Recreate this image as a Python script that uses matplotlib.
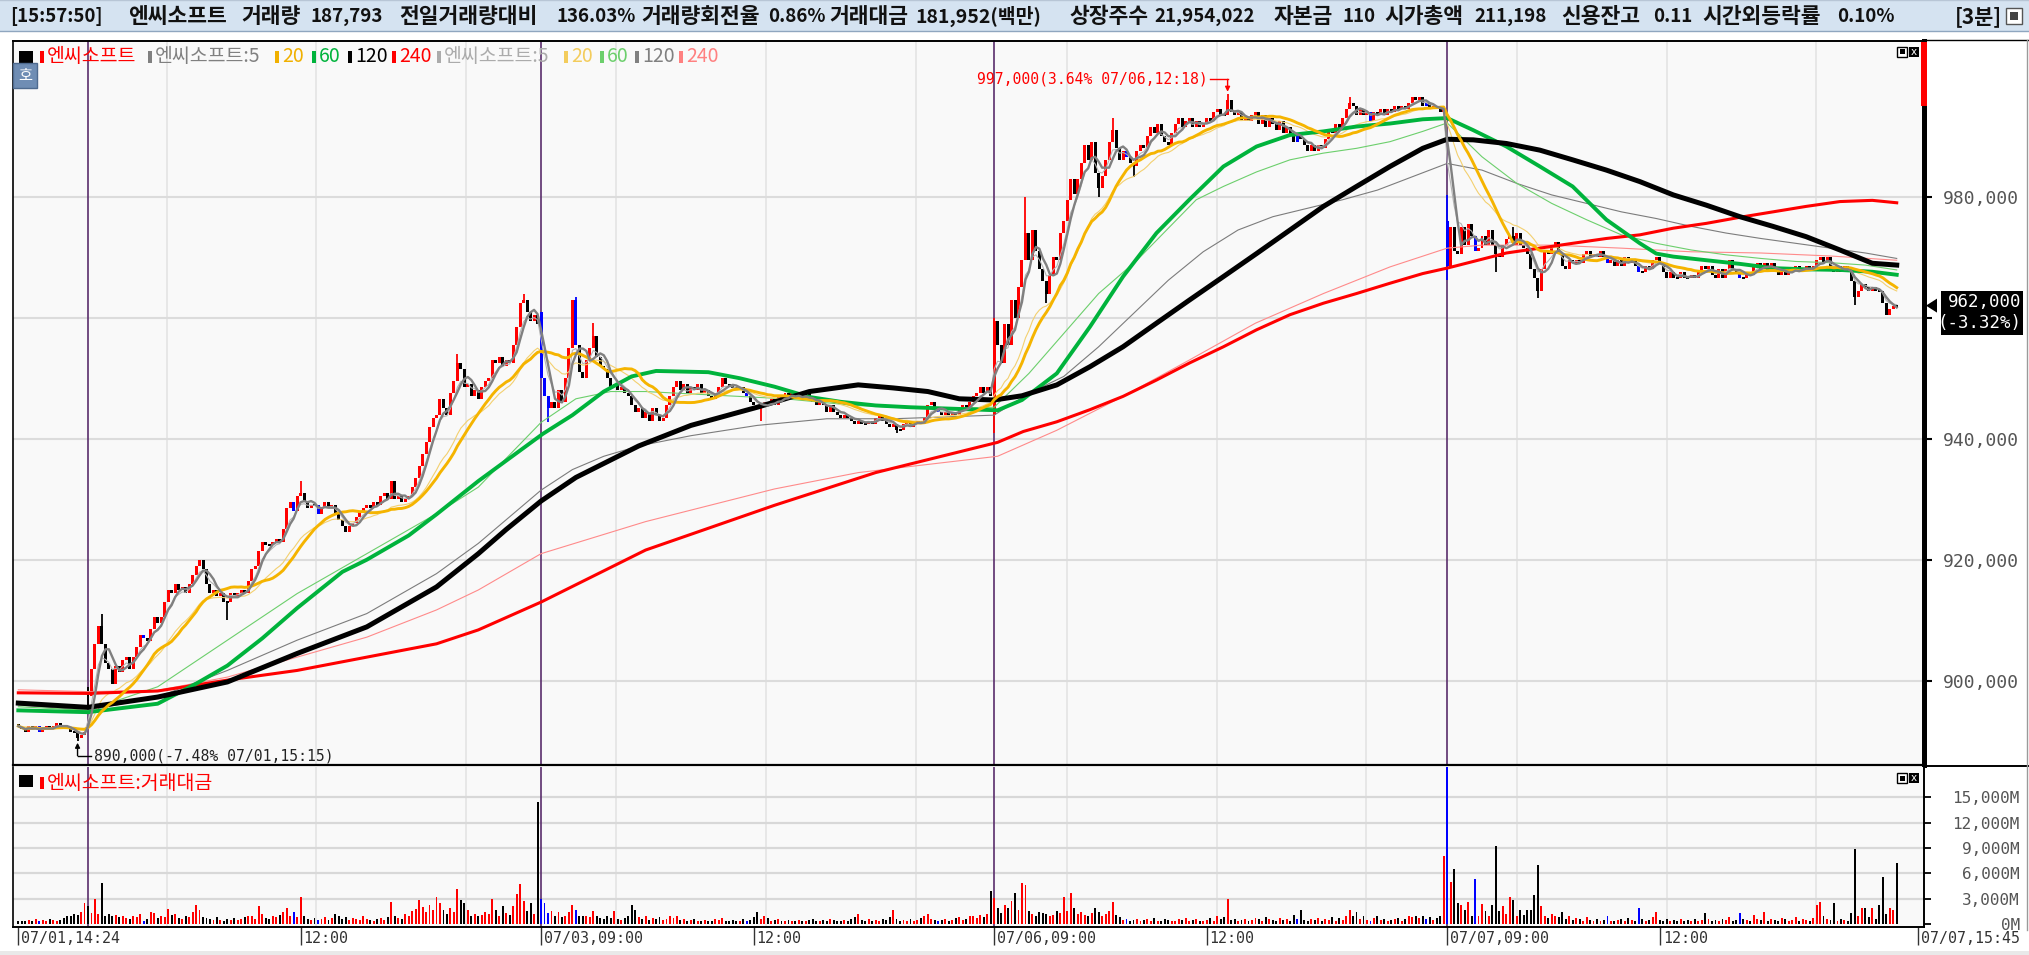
import numpy as np
import pandas as pd
import matplotlib
matplotlib.use("Agg")
import matplotlib.pyplot as plt
from matplotlib.patches import Rectangle, Polygon
from matplotlib.lines import Line2D

plt.rcParams['font.family'] = ['Noto Sans CJK KR', 'DejaVu Sans']

# ---------------- data: 3-minute bars, prices in thousand won ----------------
close_0701 = [892.5, 892, 891.5, 892.5, 892, 892.5, 891.5, 892, 892.5, 892,
              892.5, 893, 892.5, 892.5, 892, 891.5, 891.5, 890.5, 891, 891.5]
close_0702 = [897.5, 902, 906, 909, 906, 903, 902, 899.5, 902.5, 901.5,
              903.5, 904, 902, 904, 905.5, 907.5, 907, 906.5, 908.5, 910.5,
              909.5, 910.5, 913, 915, 914.5, 916, 915, 915.5, 914.5, 916,
              917.5, 919, 920, 918.5, 916, 914.5, 915, 914, 914.5, 913,
              913, 914.5, 914, 914.5, 915, 914.5, 916.5, 918.5, 919, 921.5,
              923, 922.5, 922.5, 923, 923.5, 923, 925, 928.5, 929.5, 928,
              930.5, 931, 929.5, 928.5, 929, 929, 927.5, 928.5, 929.5, 928.5,
              929, 927.5, 926.5, 925.5, 924.5, 925.5, 926, 927, 928, 928.5,
              929, 928.5, 929.5, 929, 930.5, 931, 930, 933, 930, 930.5,
              929.5, 930, 930.5, 932, 933.5, 935.5, 937.5, 939.5, 942, 943.5,
              944, 946.5, 945, 944, 947.5, 949.5, 952.5, 951.5, 948.5, 949,
              947, 948, 946.5, 948.5, 949.5, 950, 953, 952.5, 953.5, 952,
              953, 952.5, 955.5, 958.5, 962.5, 963, 961, 959.5, 960.5, 959]
close_0703 = [950, 947, 945, 946, 945, 948, 946, 950, 955, 963,
              955.5, 951, 950, 953, 955, 957, 953.5, 952, 951.5, 950,
              948.5, 949, 948, 948.5, 947.5, 947, 945.5, 944.5, 945, 943.5,
              944.5, 943, 945, 944, 943, 943.5, 945.5, 947, 948.5, 949.5,
              948, 949, 947.5, 948.5, 948, 949, 947.5, 948, 947, 946.5,
              947.5, 948.5, 950, 949, 948.5, 948.5, 948, 948.5, 947.5, 947,
              946, 945.5, 945, 945.5, 946, 945.5, 946.5, 945.5, 947, 946.5,
              947.5, 947, 947.5, 946.5, 947, 946.5, 947.5, 946.5, 946, 945.5,
              946, 945.5, 944.5, 945.5, 944.5, 944, 943.5, 944, 943.5, 943,
              942.5, 943, 942.5, 942.5, 943, 942.5, 943.5, 944, 943, 942.5,
              942, 942.5, 941.5, 941.5, 942.5, 943, 942, 942.5, 943, 942.5,
              943.5, 945.5, 946, 945, 944.5, 944, 944.5, 944, 944.5, 944,
              945, 945.5, 945, 946, 947, 947.5, 948.5, 947.5, 948.5, 947]
close_0706 = [959.5, 955.5, 952.5, 959, 955.5, 963, 960, 965, 969.5, 974,
              969.5, 974.5, 971, 968, 966, 964, 967, 970, 969.5, 974,
              976, 979.5, 983, 980.5, 983, 985.5, 988.5, 986, 989, 984,
              981.5, 983.5, 986, 989, 991, 988, 986, 987.5, 986.5, 985.5,
              985, 987.5, 988.5, 988, 990, 991.5, 990.5, 992, 990, 989,
              988.5, 990.5, 992, 993, 991.5, 992.5, 993, 991.5, 992.5, 991.5,
              992, 993, 992.5, 994, 994.5, 993.5, 993.5, 996, 994, 993.5,
              994, 992.5, 993, 992.5, 993.5, 994, 992, 993.5, 991.5, 993,
              992, 991, 992.5, 990.5, 991.5, 990, 989, 990.5, 989.5, 988.5,
              987.5, 988.5, 987.5, 988.5, 988, 989.5, 991, 990.5, 992, 991,
              993, 994.5, 995.5, 995, 993.5, 994.5, 993.5, 994, 992.5, 994,
              993.5, 994.5, 993.5, 994.5, 994, 995, 994.5, 995, 994.5, 995.5,
              996.5, 996, 996.5, 995, 995.5, 994.5, 995, 994.5, 994, 994.5]
close_0707 = [968.5, 975, 971, 970.5, 975, 972, 975.5, 973.5, 971, 971.5,
              973.5, 972, 974.5, 972, 970.5, 970, 972, 973, 973.5, 972,
              974, 972, 971.5, 970.5, 968, 966.5, 964.5, 968, 971, 970.5,
              971.5, 972.5, 970.5, 968.5, 968, 969.5, 969, 969.5, 969, 970.5,
              971, 970, 970.5, 970, 971, 970, 969, 969.5, 968.5, 969.5,
              968.5, 970, 969, 969.5, 968.5, 967.5, 967.5, 968.5, 968, 969.5,
              970, 969, 967.5, 966.5, 967.5, 966.5, 966.5, 967.5, 966.5, 966.5,
              967, 966.5, 967.5, 968.5, 968, 968.5, 967, 966.5, 968, 966.5,
              968, 969.5, 968, 967.5, 966.5, 966.5, 967.5, 967, 968.5, 969,
              968, 969, 967.5, 969, 968, 967, 968, 967, 967.5, 968,
              968.5, 967.5, 968, 968.5, 968, 968.5, 969.5, 970, 969, 970,
              968, 967.5, 968.5, 967.5, 968.5, 968, 966, 963.5, 964.5, 965.5,
              965, 964.5, 965, 964.5, 964.5, 962.5, 960.5, 961.5, 962, 962]

# opening prices where a new session gaps away from the previous close
gap_open = {0: 892.8, 20: 899.0, 150: 961.0, 280: 944.0, 410: 976.0}
high_wick = {24: 911, 81: 933, 126: 954, 145: 964, 160: 963.5, 165: 959.2,
             280: 960, 289: 980, 314: 993, 347: 997, 382: 996.5, 410: 980.3,
             429: 975}
low_wick = {17: 890, 20: 895.7, 60: 910, 152: 942.7, 213: 943, 252: 941,
            280: 941, 295: 962.5, 310: 980, 320: 983.3, 410: 966.2,
            424: 967.5, 436: 963.2, 527: 962.1}
blue_bars = [6, 36, 79, 86, 150, 151, 152, 160, 209, 264, 318, 367, 388,
             404, 410, 418, 456, 465, 494]

# trading value (거래대금), hundreds of millions of won
amt_0701 = [4, 3, 4, 5, 3, 6, 3, 5, 4, 6, 5, 4, 5, 7, 9, 10, 12, 11, 14, 25]
amt_0702 = [21, 13, 29, 12, 48, 10, 12, 9, 11, 8,
            9, 7, 6, 10, 8, 12, 4, 6, 14, 13,
            7, 9, 8, 18, 11, 12, 7, 6, 9, 8,
            14, 23, 16, 8, 7, 6, 5, 8, 5, 4,
            6, 5, 7, 5, 6, 8, 10, 9, 6, 21,
            12, 7, 6, 9, 8, 11, 14, 19, 10, 14,
            8, 32, 9, 6, 5, 7, 5, 6, 8, 5,
            7, 12, 9, 6, 8, 5, 7, 6, 5, 9,
            6, 5, 4, 6, 7, 5, 8, 26, 9, 7,
            6, 12, 10, 15, 18, 28, 20, 14, 22, 17,
            32, 25, 17, 12, 19, 14, 41, 28, 25, 16,
            10, 12, 9, 11, 14, 12, 30, 17, 9, 21,
            13, 11, 21, 36, 47, 27, 15, 25, 12, 144]
amt_0703 = [29, 25, 13, 15, 9, 14, 8, 10, 14, 23,
            17, 9, 10, 9, 8, 15, 10, 7, 6, 9,
            7, 15, 6, 5, 7, 9, 22, 17, 8, 6,
            9, 5, 7, 6, 8, 5, 6, 9, 7, 10,
            5, 6, 4, 5, 6, 4, 3, 5, 4, 3,
            6, 5, 7, 4, 3, 5, 4, 3, 6, 4,
            5, 8, 14, 6, 10, 7, 4, 5, 6, 3,
            4, 5, 3, 4, 5, 4, 3, 5, 6, 4,
            3, 5, 4, 6, 5, 4, 3, 5, 4, 6,
            8, 12, 5, 4, 6, 3, 5, 4, 6, 5,
            8, 17, 6, 4, 5, 3, 6, 4, 5, 7,
            9, 12, 6, 5, 4, 5, 6, 4, 5, 7,
            8, 5, 6, 9, 10, 7, 11, 8, 12, 39]
amt_0706 = [31, 19, 13, 23, 19, 27, 37, 16, 49, 46,
            15, 12, 10, 14, 13, 12, 9, 11, 15, 13,
            32, 15, 37, 19, 12, 14, 11, 9, 13, 19,
            14, 10, 12, 15, 26, 11, 8, 5, 6, 4,
            5, 6, 4, 5, 6, 4, 7, 3, 4, 6,
            5, 3, 4, 6, 5, 7, 4, 5, 6, 4,
            3, 5, 7, 4, 9, 6, 8, 30, 5, 6,
            4, 5, 6, 4, 5, 7, 6, 4, 8, 6,
            5, 4, 7, 5, 6, 4, 11, 6, 17, 5,
            4, 6, 5, 7, 4, 6, 5, 8, 4, 7,
            5, 9, 16, 10, 14, 6, 9, 5, 4, 7,
            9, 5, 6, 4, 5, 6, 7, 4, 6, 9,
            8, 10, 7, 9, 6, 8, 5, 7, 9, 80]
amt_0707 = [200, 50, 65, 25, 23, 16, 26, 10, 53, 10,
            24, 15, 9, 23, 92, 15, 21, 12, 32, 28,
            9, 17, 11, 17, 17, 34, 70, 21, 9, 7,
            12, 10, 8, 14, 6, 9, 5, 7, 6, 4,
            8, 5, 3, 6, 4, 5, 9, 4, 3, 5,
            6, 4, 7, 5, 4, 19, 6, 4, 5, 8,
            14, 5, 4, 6, 3, 5, 4, 6, 3, 5,
            4, 6, 3, 5, 13, 6, 4, 5, 3, 6,
            5, 8, 4, 5, 13, 6, 5, 4, 11, 6,
            5, 14, 4, 6, 5, 3, 7, 6, 4, 5,
            8, 4, 6, 5, 3, 7, 22, 26, 9, 6,
            5, 25, 4, 6, 5, 4, 13, 89, 10, 19,
            19, 8, 19, 6, 23, 56, 12, 19, 17, 72]

# long moving averages (bar index, value)
sma60 = [(0, 895.1), (20, 894.8), (40, 896.2), (51, 899.5), (60, 902.5), (70, 907), (80, 912),
         (93, 918), (100, 920), (112, 924), (120, 927.5), (132, 933), (150.5, 940.8), (159, 943.9),
         (168, 947.8), (176, 950.3), (183, 951.2), (198, 951), (207, 950), (217, 948.6), (227, 946.9),
         (236, 946.1), (246, 945.5), (256, 945.2), (266, 945), (281, 944.7), (288, 946.4), (298, 950.8),
         (307.5, 958.5), (317, 966.8), (326.6, 974), (336, 979.5), (345.8, 985), (355.3, 988.3),
         (364.9, 990.2), (374.5, 990.8), (384, 991.6), (393.6, 992.1), (403, 992.8), (410, 993),
         (417.5, 991), (427, 988.3), (436.6, 985), (446, 981.7), (455.7, 976.2), (465.3, 972.3),
         (470, 970.6), (474.9, 970.1), (484.4, 969.5), (494, 968.9), (503.5, 968.2), (513, 968),
         (522.7, 967.9), (532, 967.6), (539, 967.1)]
sma120 = [(0, 896.3), (20, 895.6), (40, 897.3), (60, 899.8), (80, 904.5), (100, 908.9), (120, 915.5),
          (132, 921), (140, 925), (150, 929.7), (160, 933.6), (178, 938.8), (193, 942.2), (212, 945.2),
          (227, 947.8), (241, 948.9), (251, 948.4), (261, 947.8), (270, 946.6), (280, 946.4),
          (288, 947.1), (298, 948.9), (307.5, 951.9), (317, 955.2), (326.6, 959.1), (336, 962.9),
          (345.8, 966.8), (355.3, 970.6), (364.9, 974.5), (374.5, 978.4), (384, 981.7), (393.6, 985),
          (403, 988), (410, 989.5), (417.5, 989.4), (427, 988.8), (436.6, 987.7), (446, 986.1),
          (455.7, 984.4), (465.3, 982.5), (474.9, 980.3), (484.4, 978.6), (494, 976.7), (503.5, 975.1),
          (513, 973.4), (522.7, 971.2), (532, 969), (539, 968.7)]
sma240 = [(0, 898), (20, 897.9), (40, 898.3), (60, 900.1), (80, 901.7), (100, 903.9), (120, 906.1),
          (132, 908.4), (150, 913), (180, 921.6), (217, 929), (246, 934.4), (281, 939.4), (288.4, 941.2),
          (298, 942.8), (307.5, 944.8), (317, 947), (326.6, 949.7), (336, 952.5), (345.8, 955.2),
          (355.3, 958), (364.9, 960.5), (374.5, 962.4), (384, 964), (393.6, 965.7), (403, 967.3),
          (410, 968.2), (417.5, 969.3), (427, 970.7), (436.6, 971.5), (446, 972.3), (455.7, 973.1),
          (465.3, 973.7), (474.9, 974.8), (484.4, 975.6), (494, 976.6), (503.5, 977.5), (513, 978.4),
          (522.7, 979.2), (532, 979.4), (539, 979)]
ema60 = [(0, 895.7), (20, 895.1), (40, 899), (60, 906.7), (80, 914.4), (100, 921), (120, 927.6),
         (132, 932), (150, 942.7), (160, 946.6), (170, 947.8), (180, 947.8), (200, 947.2), (220, 946.6),
         (240, 945.5), (260, 945), (280, 945.2), (290, 950.8), (300, 957.4), (310, 964), (321, 969.5),
         (338, 979.5), (345.8, 981.7), (355.3, 984.1), (364.9, 986.1), (374.4, 987.2), (384, 988),
         (393.6, 989.1), (403, 990.8), (410, 992.2), (420, 986.6), (430, 982.2), (440, 978.9),
         (450, 976.2), (460, 973.7), (470, 972.3), (480, 971.2), (490, 970.4), (500, 969.8),
         (510, 969.3), (520, 969.1), (530, 968.7), (539, 967.9)]
ema120 = [(0, 896), (20, 895.1), (40, 897.3), (60, 901.7), (80, 906.7), (100, 911.1), (120, 917.7),
          (132, 922.7), (150, 931.5), (159, 934.9), (168, 937.1), (178, 938.8), (193, 940.5),
          (212, 942.2), (232, 943.3), (251, 943.3), (266, 943.6), (280, 943.9), (290, 947.5),
          (300, 950.3), (310, 955.2), (320, 960.7), (330, 966.2), (340, 970.9), (350, 974.5),
          (360, 976.7), (370, 978.1), (380, 979.5), (390, 981.1), (400, 983.3), (410, 985.5),
          (420, 984.4), (430, 982.2), (440, 980.3), (450, 978.9), (460, 977.5), (470, 976.4),
          (480, 975.1), (490, 974), (500, 973.1), (510, 972.3), (520, 971.5), (530, 970.7), (539, 969.8)]
ema240 = [(0, 898.5), (20, 898.2), (40, 898.4), (60, 900.6), (80, 903.9), (100, 907.2), (120, 911.7),
          (132, 915), (150, 921), (180, 926.3), (217, 931.7), (241, 934.4), (281, 937.1), (298, 941.4),
          (317, 947), (336, 953), (355, 959.1), (374.5, 964), (393.6, 968.4), (410, 971.5), (420, 972),
          (440, 972), (460, 971.5), (480, 970.9), (500, 970.7), (520, 970.2), (539, 969.5)]

day_start = [20, 150, 280, 410]
xlab_bar = [0, 81, 150, 211, 280, 341, 410, 471, 545]
xlab_txt = ['07/01,14:24', '12:00', '07/03,09:00', '12:00', '07/06,09:00',
            '12:00', '07/07,09:00', '12:00', '07/07,15:45']

# ---------------- prepare ----------------
close = np.array(close_0701 + close_0702 + close_0703 + close_0706 + close_0707)
amt = np.array(amt_0701 + amt_0702 + amt_0703 + amt_0706 + amt_0707) * 100.0
n = len(close)
idx = np.arange(n)
opn = np.r_[close[0], close[:-1]]
for b, v in gap_open.items():
    opn[b] = v
hi = np.maximum(opn, close)
lo = np.minimum(opn, close)
for b, v in high_wick.items():
    hi[b] = v
for b, v in low_wick.items():
    lo[b] = v
col = np.where(close > opn, '#ff0000', '#000000').astype(object)
for b in blue_bars:
    col[b] = '#0000ff'

s = pd.Series(close)
ma5 = s.rolling(5, min_periods=1).mean()
ma20 = s.rolling(20, min_periods=1).mean()
ema5 = s.ewm(span=5, adjust=False).mean()
ema20 = s.ewm(span=20, adjust=False).mean()

# ---------------- figure ----------------
W, H = 2029, 955
fig = plt.figure(figsize=(W / 100, H / 100), dpi=100)
fig.patch.set_facecolor('white')


def box(x0, y0, x1, y1):
    return [x0 / W, 1 - y1 / H, (x1 - x0) / W, (y1 - y0) / H]


def frect(x0, y0, x1, y1, **kw):
    fig.add_artist(Rectangle((x0 / W, 1 - y1 / H), (x1 - x0) / W, (y1 - y0) / H,
                             transform=fig.transFigure, **kw))


def fline(xs, ys, **kw):
    fig.add_artist(Line2D([x / W for x in xs], [1 - y / H for y in ys],
                          transform=fig.transFigure, **kw))


PX0, PX1 = 13, 1924
X0, STEP = 18.3, 3.485
axp = fig.add_axes(box(PX0, 41, PX1, 765))
axv = fig.add_axes(box(PX0, 767, PX1, 927))
xlim = ((PX0 - X0) / STEP, (PX1 - X0) / STEP)
for ax in (axp, axv):
    ax.set_xlim(*xlim)
    ax.set_facecolor('#f9f9f9')
axp.set_ylim(886.07, 1005.74)
axv.set_ylim(-355, 18580)

# grid + session separators
for px in [167, 316, 466, 616, 766, 916, 1067, 1217, 1366, 1517, 1667, 1816]:
    for ax in (axp, axv):
        ax.axvline((px - X0) / STEP, color='#e2e2e2', lw=1.1, zorder=0.5)
for v in [900, 920, 940, 960, 980]:
    axp.axhline(v, color='#dcdcdc', lw=1.5, zorder=0.6)
for v in [3000, 6000, 9000, 12000, 15000]:
    axv.axhline(v, color='#d8d8d8', lw=1.6, zorder=0.6)
for b in day_start:
    for ax in (axp, axv):
        ax.axvline(b, color='#5a2d6c', lw=1.2, zorder=1.5)


def pts(p):
    return [a for a, _ in p], [b for _, b in p]


# thin (exponential) averages
axp.plot(*pts(ema240), color='#ff8a8a', lw=0.8, zorder=4)
axp.plot(*pts(ema120), color='#7c7c7c', lw=0.8, zorder=4)
axp.plot(*pts(ema60), color='#6ccf6c', lw=0.8, zorder=4)
axp.plot(idx, ema20, color='#f3d070', lw=0.8, zorder=4)
axp.plot(idx, ema5, color='#b4b4b4', lw=0.8, zorder=4)

# candles
axp.vlines(idx, lo, hi, colors=list(col), lw=1.3, zorder=3)
body = np.maximum(np.abs(close - opn), 0.35)
axp.bar(idx, body, bottom=np.minimum(opn, close) - (body - np.abs(close - opn)) / 2,
        width=0.86, color=list(col), lw=0, zorder=3)

# bold (simple) averages
axp.plot(*pts(sma240), color='#ff0000', lw=2.2, zorder=5)
axp.plot(*pts(sma60), color='#00b33c', lw=2.8, zorder=5)
axp.plot(*pts(sma120), color='#000000', lw=3.6, zorder=5)
axp.plot(idx, ma20, color='#f5b400', lw=2.1, zorder=6)
axp.plot(idx, ma5, color='#808080', lw=1.7, zorder=6)

# volume
axv.bar(idx, amt, width=0.55, color=list(col), lw=0, zorder=3)

# spines / ticks
for ax in (axp, axv):
    for sp in ax.spines.values():
        sp.set_color('black')
axp.spines['left'].set_linewidth(1.2)
axp.spines['top'].set_linewidth(1.4)
axp.spines['bottom'].set_linewidth(1.6)
axp.spines['right'].set_linewidth(3.6)
axv.spines['top'].set_visible(False)
axv.spines['left'].set_linewidth(1.2)
axv.spines['right'].set_linewidth(1.4)
axv.spines['bottom'].set_linewidth(1.4)

axp.yaxis.tick_right()
pticks = [900, 920, 940, 960, 980]
axp.set_yticks(pticks, [f'{v * 1000:,}' if v != 960 else '' for v in pticks],
               ha='right', fontfamily='DejaVu Sans Mono')
axp.tick_params(axis='y', direction='out', length=6, width=1.5, pad=62.5,
                labelsize=13, labelcolor='#555555')
axp.tick_params(axis='x', length=0, labelbottom=False)

axv.yaxis.tick_right()
vticks = [0, 3000, 6000, 9000, 12000, 15000]
axv.set_yticks(vticks, [f'{v:,}M' for v in vticks], ha='right', fontfamily='DejaVu Sans Mono')
axv.tick_params(axis='y', direction='out', length=5, width=1.3, pad=64,
                labelsize=11.5, labelcolor='#555555')
axv.set_xticks(xlab_bar, [''] * len(xlab_bar))
axv.tick_params(axis='x', direction='out', length=13, width=1.0, color='#333333')
for b, t in zip(xlab_bar, xlab_txt):
    axv.annotate(t, xy=(b, 0), xycoords=('data', 'axes fraction'), xytext=(3, -4),
                 textcoords='offset pixels', ha='left', va='top', fontsize=10.8,
                 fontfamily='DejaVu Sans Mono', color='#333333', annotation_clip=False)

# high / low annotations
hb = int(np.argmax(hi)); hv = hi[hb]
axp.annotate('', xy=(hb, hv + 0.35), xytext=(hb, hv + 2.4),
             arrowprops=dict(arrowstyle='-|>', color='red', lw=1.0, mutation_scale=7,
                             shrinkA=0, shrinkB=0), zorder=7)
axp.plot([hb - 5, hb], [hv + 2.4, hv + 2.4], color='red', lw=1.0, zorder=7)
axp.text(hb - 5.6, hv + 2.4, f'{hv * 1000:,.0f}(3.64% 07/06,12:18)', color='red',
         ha='right', va='center', fontsize=10.6, fontfamily='DejaVu Sans Mono', zorder=7)
lb = int(np.argmin(lo)); lv = lo[lb]
axp.annotate('', xy=(lb, lv - 0.25), xytext=(lb, lv - 2.4),
             arrowprops=dict(arrowstyle='-|>', color='black', lw=1.0, mutation_scale=7,
                             shrinkA=0, shrinkB=0), zorder=7)
axp.plot([lb, lb + 4], [lv - 2.4, lv - 2.4], color='black', lw=1.0, zorder=7)
axp.text(lb + 4.8, lv - 2.4, f'{lv * 1000:,.0f}(-7.48% 07/01,15:15)', color='#222222',
         ha='left', va='center', fontsize=10.6, fontfamily='DejaVu Sans Mono', zorder=7)

# ---------------- header & decorations ----------------
frect(0, 0, W, 31, facecolor='#d5e3f1', edgecolor='none')
fline([0, W], [31.5, 31.5], color='#8fa6bf', lw=1.0)
fline([0, W], [0.5, 0.5], color='#b8c6d6', lw=1.0)
hdr = [(10, '[15:57:50]', 13.5), (128, '엔씨소프트', 15.5), (241, '거래량', 15.5),
       (311, '187,793', 13.5), (399, '전일거래량대비', 15.5), (557, '136.03%', 13.5),
       (641, '거래량회전율', 15.5), (768, '0.86%', 13.5), (829, '거래대금', 15.5),
       (915, '181,952(백만)', 14), (1069, '상장주수', 15.5),
       (1154, '21,954,022', 13.5), (1274, '자본금', 15.5), (1342, '110', 13.5),
       (1384, '시가총액', 15.5), (1474, '211,198', 13.5), (1561, '신용잔고', 15.5),
       (1653, '0.11', 13.5), (1702, '시간외등락률', 15.5), (1837, '0.10%', 13.5),
       (1955, '[3분]', 15)]
for x, t, fs in hdr:
    fig.text(x / W, 1 - 16.5 / H, t, ha='left', va='center', fontsize=fs,
             fontweight='bold', color='#111111')
frect(2006, 8, 2022, 24, facecolor='white', edgecolor='#555555', lw=1.0)
frect(2010, 12, 2018, 20, facecolor='#444444', edgecolor='none')

# frame lines to the right of the plot areas
fline([PX1, W], [40.5, 40.5], color='black', lw=1.0)
fline([PX1, W], [765.5, 765.5], color='black', lw=1.4)
fline([2026.5, 2026.5], [40, 930], color='#9a9a9a', lw=1.0)
frect(PX1 - 3, 42, PX1 + 2.5, 106, facecolor='red', edgecolor='none')


def legend_item(x, y, text, color):
    frect(x, y - 6, x + 3.5, y + 6, facecolor=color, edgecolor='none')
    fig.text((x + 7) / W, 1 - y / H, text, ha='left', va='center', fontsize=14, color=color)


frect(19, 51, 33, 63, facecolor='black', edgecolor='none')
LY = 57
for x, t, c in [(40, '엔씨소프트', '#ff0000'), (148, '엔씨소프트:5', '#808080'),
                (275, '20', '#f0b000'), (312, '60', '#00b33c'), (348, '120', '#000000'),
                (392, '240', '#ff0000'), (437, '엔씨소프트:5', '#ababab'),
                (564, '20', '#f3cc5c'), (600, '60', '#6ccf6c'), (635, '120', '#808080'),
                (679, '240', '#ff8080')]:
    legend_item(x, LY, t, c)
frect(19, 775, 33, 787, facecolor='black', edgecolor='none')
legend_item(40, 783, '엔씨소프트:거래대금', '#ff0000')

# quote button
frect(13, 63, 37, 88, facecolor='#6f8db4', edgecolor='#4e6a8f', lw=1.0)
fig.text(25 / W, 1 - 75.5 / H, '호', ha='center', va='center', fontsize=11, color='white')

# panel icons
for y0 in (47, 773):
    frect(1897, y0, 1907, y0 + 10, facecolor='white', edgecolor='black', lw=1.0)
    frect(1899.5, y0 + 2.5, 1904.5, y0 + 7.5, facecolor='black', edgecolor='none')
    frect(1909, y0, 1919, y0 + 10, facecolor='black', edgecolor='none')
    fig.text(1914 / W, 1 - (y0 + 5) / H, 'x', ha='center', va='center', fontsize=7.5,
             color='white', fontfamily='DejaVu Sans')

# current price tag
last = close[-1]
ypix = H - axp.transData.transform((0, last))[1]
fig.add_artist(Polygon([[1926 / W, 1 - ypix / H], [1937 / W, 1 - (ypix - 7) / H],
                        [1937 / W, 1 - (ypix + 7) / H]], closed=True,
                       transform=fig.transFigure, facecolor='black', edgecolor='none'))
frect(1941, ypix - 15, 2023, ypix + 29, facecolor='black', edgecolor='none')
fig.text(2021 / W, 1 - (ypix - 4) / H, f'{last * 1000:,.0f}', ha='right', va='center',
         fontsize=12.5, fontfamily='DejaVu Sans Mono', color='white')
fig.text(2021 / W, 1 - (ypix + 17) / H, '(-3.32%)', ha='right', va='center',
         fontsize=12.5, fontfamily='DejaVu Sans Mono', color='white')

# bottom scroll strip
frect(0, 951, W, H, facecolor='#e9e9e9', edgecolor='none')

fig.savefig('out.png', dpi=100)
